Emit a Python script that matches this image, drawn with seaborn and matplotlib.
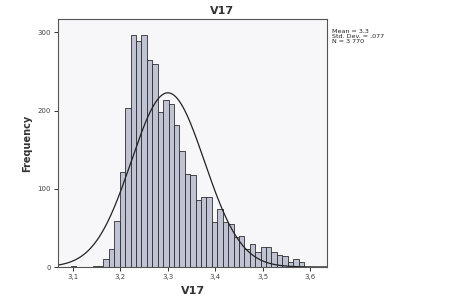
import numpy as np
import pandas as pd
import matplotlib
matplotlib.use("Agg")
import matplotlib.pyplot as plt
import seaborn as sns

# ---- data ----
bin_start = 3.0962
bin_width = 0.0114
counts = [1, 0, 0, 0, 1, 1,
          10, 23, 59, 122, 203, 296, 289, 297, 265, 259,
          198, 213, 208, 181, 148, 119, 118, 86, 90, 90,
          57, 74, 58, 55, 38, 40, 23, 30, 19, 25, 25, 19,
          15, 14, 7, 10, 6]
mean_v = 3.3
sd_v = 0.077
n_v = 3770
x_ticks = [3.1, 3.2, 3.3, 3.4, 3.5, 3.6]
x_tick_labels = ["3,1", "3,2", "3,3", "3,4", "3,5", "3,6"]
y_ticks = [0, 100, 200, 300]
stats_text = "Mean = 3,3\nStd. Dev. = ,077\nN = 3 770"

sns.set_style("white")
plt.rcParams['font.family'] = ['DejaVu Sans']

nb = len(counts)
centers = bin_start + bin_width * (np.arange(nb) + 0.5)
df = pd.DataFrame({"V17": centers, "count": counts})

fig = plt.figure(figsize=(4.64, 2.97), dpi=100)
ax = fig.add_axes([0.125, 0.101, 0.58, 0.835])
ax.set_facecolor("#f7f7f9")

sns.histplot(data=df, x="V17", weights="count", bins=nb,
             binrange=(bin_start, bin_start + nb * bin_width), ax=ax,
             color="#bfc3d3", edgecolor="#2e2e2e", linewidth=0.6, alpha=1)

xs = np.linspace(3.069, 3.635, 400)
ys = n_v * bin_width / (sd_v * np.sqrt(2 * np.pi)) * np.exp(-0.5 * ((xs - mean_v) / sd_v) ** 2)
sns.lineplot(x=xs, y=ys, ax=ax, color="#222222", linewidth=0.9)

ax.set_xlim(3.069, 3.635)
ax.set_ylim(0, 317)
ax.set_xticks(x_ticks)
ax.set_xticklabels(x_tick_labels, fontsize=5, color="#444444")
ax.set_yticks(y_ticks)
ax.set_yticklabels([str(v) for v in y_ticks], fontsize=5, color="#444444")
ax.tick_params(axis="both", direction="out", length=3, width=0.7, color="#333333", pad=2,
               bottom=True, left=True)
for s in ax.spines.values():
    s.set_color("#555555")
    s.set_linewidth(0.8)

ax.set_xlabel("V17", fontsize=8, fontweight="bold", color="#333333", labelpad=4)
ax.set_ylabel("Frequency", fontsize=7, fontweight="bold", color="#333333", labelpad=4)
fig.text(222 / 464, 1 - 11 / 297, "V17", ha="center", va="center",
         fontsize=8, fontweight="bold", color="#333333")
fig.text(332 / 464, 1 - 29 / 297, stats_text, ha="left", va="top",
         fontsize=4.6, color="#222222", linespacing=1.05)

fig.savefig("out.png", dpi=100)
